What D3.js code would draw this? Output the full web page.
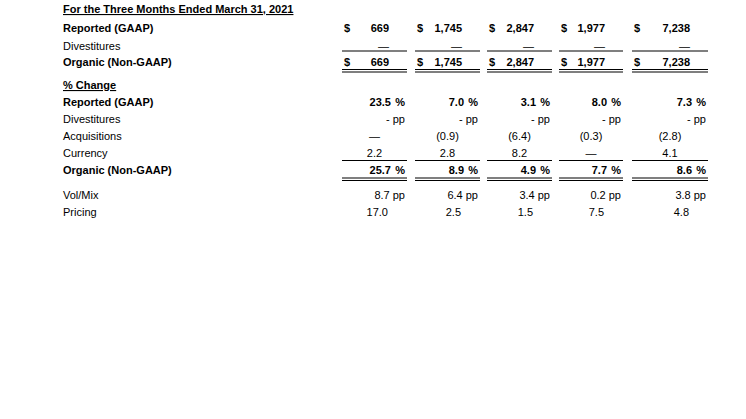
<!DOCTYPE html><html><head><meta charset="utf-8"><script src="https://cdn.jsdelivr.net/npm/d3@7"></script>
<style>body{margin:0;background:#fff}</style></head><body><svg id="c" width="746" height="419"></svg>
<script>
const title="For the Three Months Ended March 31, 2021";
const reported=["669","1,745","2,847","1,977","7,238"];
const divest=["—","—","—","—","—"];
const organic=["669","1,745","2,847","1,977","7,238"];
const pctReported=["23.5","7.0","3.1","8.0","7.3"];
const pctDivest=["- pp","- pp","- pp","- pp","- pp"];
const acquisitions=["—","(0.9)","(6.4)","(0.3)","(2.8)"];
const currency=["2.2","2.8","8.2","—","4.1"];
const pctOrganic=["25.7","8.9","4.9","7.7","8.6"];
const volMix=["8.7 pp","6.4 pp","3.4 pp","0.2 pp","3.8 pp"];
const pricing=["17.0","2.5","1.5","7.5","4.8"];
const colStart=[342,415,487,559,632], colEnd=[407,480,552,623,708];
const svg=d3.select("#c");
const F="Liberation Sans, Arial, sans-serif";
function t(x,y,s,o={}){return svg.append("text").attr("x",x).attr("y",y).attr("font-family",F).attr("font-size",11)
 .attr("font-weight",o.b?"bold":"normal").attr("text-anchor",o.a||"start").attr("fill","#000").text(s)
 .attr("text-decoration",o.u?"underline":null);}
function line(y,w=1.2){colStart.forEach((s,i)=>svg.append("line").attr("x1",s).attr("x2",colEnd[i]).attr("y1",y).attr("y2",y).attr("stroke","#000").attr("stroke-width",w));}
function dbl(y){line(y,1.2);line(y+2.5,1.2);}
t(63,13,title,{b:1,u:1});
const labels=[["Reported (GAAP)",32,1],["Divestitures",50,0],["Organic (Non-GAAP)",66,1],["% Change",89,1,1],["Reported (GAAP)",106,1],["Divestitures",123,0],["Acquisitions",140,0],["Currency",157,0],["Organic (Non-GAAP)",174,1],["Vol/Mix",199,0],["Pricing",216,0]];
labels.forEach(l=>t(63,l[1],l[0],{b:l[2],u:l[3]}));
colStart.forEach((s,i)=>{const e=colEnd[i],c=(s+e)/2;
 t(s+2,32,"$",{b:1});t(e-18,32,reported[i],{b:1,a:"end"});
 t(e-18,50,divest[i],{a:"end"});
 t(s+2,66,"$",{b:1});t(e-18,66,organic[i],{b:1,a:"end"});
 t(e-16,106,pctReported[i],{b:1,a:"end"});t(e-2,106,"%",{b:1,a:"end"});
 t(e-2,123,pctDivest[i],{a:"end"});
 t(c,140,acquisitions[i],{a:"middle"});
 t(c,157,currency[i],{a:"middle"});
 t(e-16,174,pctOrganic[i],{b:1,a:"end"});t(e-2,174,"%",{b:1,a:"end"});
 t(e-2,199,volMix[i],{a:"end"});
 t(e-19,216,pricing[i],{a:"end"});
});
line(51);line(69.5);dbl(69.5+0);
line(160.5);dbl(178);
</script></body></html>
